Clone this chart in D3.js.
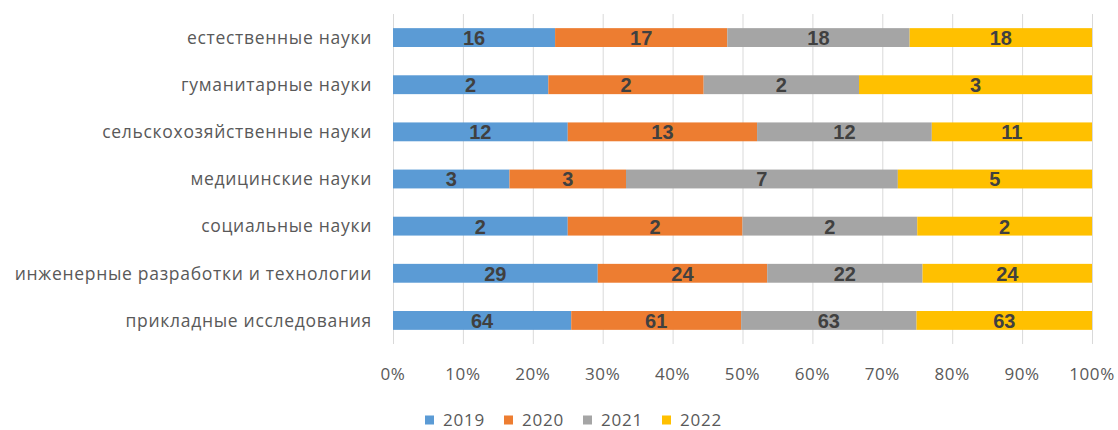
<!DOCTYPE html>
<html><head><meta charset="utf-8">
<script src="https://cdn.jsdelivr.net/npm/d3@7"></script>
<style>body{margin:0;background:#fff}</style>
</head><body>
<svg id="c" width="1118" height="430"></svg>
<script>
const categories = ["естественные науки","гуманитарные науки","сельскохозяйственные науки","медицинские науки","социальные науки","инженерные разработки и технологии","прикладные исследования"];
const years = ["2019","2020","2021","2022"];
const v2019 = [16,2,12,3,2,29,64];
const v2020 = [17,2,13,3,2,24,61];
const v2021 = [18,2,12,7,2,22,63];
const v2022 = [18,3,11,5,2,24,63];
const ticks = [0,0.1,0.2,0.3,0.4,0.5,0.6,0.7,0.8,0.9,1];
const colors = ["#5b9bd5","#ed7d31","#a5a5a5","#ffc000"];

const series = [v2019,v2020,v2021,v2022];
const rows = categories.map((c,i)=>{const o={cat:c}; years.forEach((y,k)=>o[y]=series[k][i]); return o;});
const stacked = d3.stack().keys(years).offset(d3.stackOffsetExpand)(rows);

const svg = d3.select("#c");
const font = "'Open Sans', 'Liberation Sans', sans-serif";
const x = d3.scaleLinear().domain([0,1]).range([393,1092]);
const y = d3.scaleBand().domain(categories).range([14,344]).paddingInner(0.6).paddingOuter(0.3);

// gridlines
svg.append("g").selectAll("line").data(ticks).join("line")
  .attr("x1",d=>x(d)+0.5).attr("x2",d=>x(d)+0.5).attr("y1",14).attr("y2",344)
  .attr("stroke","#d9d9d9").attr("stroke-width",1);

// bars
const g = svg.append("g");
stacked.forEach((s,k)=>{
  g.append("g").selectAll("rect").data(s).join("rect")
    .attr("x",d=>x(d[0])).attr("width",d=>x(d[1])-x(d[0]))
    .attr("y",d=>y(d.data.cat)).attr("height",y.bandwidth())
    .attr("fill",colors[k]);
  g.append("g").selectAll("text").data(s).join("text")
    .attr("x",d=>(x(d[0])+x(d[1]))/2).attr("y",d=>y(d.data.cat)+y.bandwidth()/2)
    .attr("dy","0.37em").attr("text-anchor","middle")
    .attr("font-family","'Liberation Sans', Arial, sans-serif").attr("font-weight","bold")
    .attr("font-size","20px").attr("fill","#404040")
    .text(d=>d.data[years[k]]);
});

// category labels
svg.append("g").selectAll("text").data(categories).join("text")
  .attr("x",372).attr("y",d=>y(d)+y.bandwidth()/2).attr("dy","0.36em")
  .attr("text-anchor","end").attr("font-family",font).attr("font-size","17.5px")
  .attr("letter-spacing","0.7px").attr("fill","#595959")
  .text(d=>d);

// x tick labels
svg.append("g").selectAll("text").data(ticks).join("text")
  .attr("x",d=>x(d)).attr("y",374).attr("dy","0.36em").attr("text-anchor","middle")
  .attr("font-family",font).attr("font-size","17px").attr("letter-spacing","0.6px").attr("fill","#595959")
  .text(d=>d3.format(".0%")(d));

// legend
const lx = [425,504,583,662];
const leg = svg.append("g").selectAll("g").data(years).join("g")
  .attr("transform",(d,i)=>`translate(${lx[i]},420)`);
leg.append("rect").attr("x",0).attr("y",-4.5).attr("width",9).attr("height",9).attr("fill",(d,i)=>colors[i]);
leg.append("text").attr("x",18).attr("y",0).attr("dy","0.36em")
  .attr("font-family",font).attr("font-size","17px").attr("letter-spacing","0.8px").attr("fill","#595959").text(d=>d);
</script>
</body></html>
